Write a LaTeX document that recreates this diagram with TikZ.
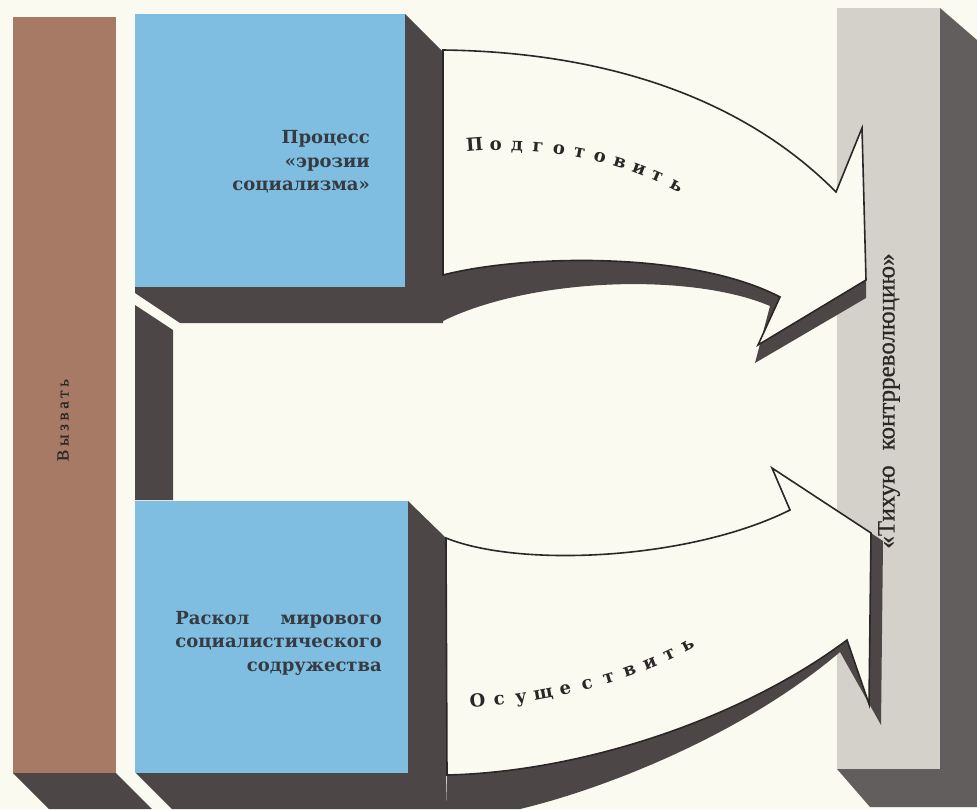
\documentclass[tikz,border=0pt]{standalone}
\usepackage{fontspec}
\usepackage{calc}
\setmainfont{Liberation Serif}
\newfontfamily\dvs{DejaVu Serif}
\newfontfamily\lsr{Liberation Serif}[FakeBold=0.6]
\newfontfamily\lsrsp{Liberation Serif}[LetterSpace=22,FakeBold=0.4]
\definecolor{bg}{HTML}{FBFAF1}
\definecolor{brownc}{HTML}{A67A64}
\definecolor{bluec}{HTML}{80BEE1}
\definecolor{darkc}{HTML}{4D4646}
\definecolor{grayc}{HTML}{D4D1CA}
\definecolor{grayside}{HTML}{625E5D}
\definecolor{txt}{HTML}{363B42}
\definecolor{outline}{HTML}{2B2727}
\begin{document}
\begin{tikzpicture}[x=1pt,y=-1pt,
  arrowbody/.style={fill=bg, draw=outline, line width=1.6pt, line join=miter},
  boxtxt/.style={text=txt, font=\dvs\bfseries\fontsize{18}{23.5}\selectfont, align=right, inner sep=0pt},
  curvetxt/.style={text=outline, font=\dvs\bfseries\fontsize{18}{18}\selectfont, inner sep=0pt, sloped, anchor=base},
  vtxt/.style={rotate=90, inner sep=0pt, anchor=center}]
\fill[bg] (0,0) rectangle (977,809);
\useasboundingbox (0,0) rectangle (977,809);
% brown bar
\fill[darkc] (13,773) -- (116,773) -- (152,809) -- (49,809) -- cycle;
\fill[brownc] (13,17) rectangle (116,773);
% gray bar
\fill[grayside] (940,8) -- (977,40) -- (977,807) -- (870,807) -- (837,769) -- cycle;
\fill[grayc] (837,8) rectangle (940,769);
% upper block with its shadows
\fill[darkc] (405,14) -- (443,52) -- (443,323) -- (180,323) -- (135,293) -- (135,287) -- cycle;
\fill[darkc] (443,275) .. controls (520,255) and (690,250) .. (780,297) -- (758,345) -- (866,280) -- (866,298) -- (755,363) -- (770,306) .. controls (690,272) and (530,278) .. (443,321) -- cycle;
\fill[darkc] (135,305) -- (173,330) -- (173,500) -- (135,500) -- cycle;
\fill[bluec] (135,14) rectangle (405,287);
% lower block with its shadows
\fill[darkc] (408,501) -- (446,538) -- (446,809) -- (172,809) -- (136,773) -- cycle;
\fill[darkc] (447,775) .. controls (580,772) and (740,720) .. (847,640) -- (869,704) -- (871,533) -- (883,541) -- (881,725) -- (840,652) .. controls (740,737) and (600,790) .. (520,809) -- (446,809) -- cycle;
\fill[bluec] (135,501) rectangle (408,773);
% arrows
\draw[arrowbody] (443,50) .. controls (600,52) and (740,95) .. (836,192) -- (862,128) -- (866,280) -- (758,345) -- (780,297) .. controls (690,250) and (520,255) .. (443,275) -- cycle;
\draw[arrowbody] (446,538) .. controls (520,568) and (690,560) .. (790,510) -- (772,468) -- (871,533) -- (869,704) -- (847,640) .. controls (740,720) and (580,772) .. (447,775) -- cycle;
% texts
\node[boxtxt, anchor=east] (proc) at (370,162) {Процесс\\«эрозии\\социализма»};
\node[boxtxt, anchor=east] (rask) at (382,643) {\makebox[\widthof{социалистического}][s]{Раскол мирового}\\социалистического\\содружества};
\node[vtxt, text=outline, font=\lsrsp\fontsize{17}{17}\selectfont] (vyz) at (63,420) {Вызвать};
\node[vtxt, text=outline, font=\lsr\fontsize{25}{25}\selectfont] (tikh) at (889,401) {«Тихую\hspace{0.6em}контрреволюцию»};
\path (475,151) .. controls (545,146) and (615,160) .. (674,190)
  foreach \t/\c [count=\k] in {0/П,0.1/о,0.2/д,0.3/г,0.4/о,0.5/т,0.6/о,0.7/в,0.8/и,0.895/т,1/ь} {node[curvetxt,pos=\t] (g\k) {\c}};
\path (478,707) .. controls (550,702) and (630,682) .. (690,650)
  foreach \t/\c [count=\k] in {0/О,0.1/с,0.2/у,0.3/щ,0.4/е,0.5/с,0.6/т,0.7/в,0.8/и,0.9/т,1/ь} {node[curvetxt,pos=\t] (o\k) {\c}};
\end{tikzpicture}
\end{document}
